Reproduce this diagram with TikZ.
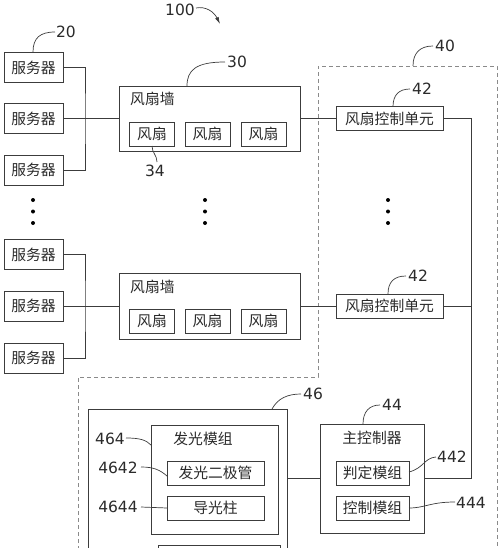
\documentclass[tikz,border=0pt]{standalone}
\usepackage{fontspec}
\setmainfont{DejaVu Sans}
\newfontfamily\cjk{Noto Sans CJK SC}
\usetikzlibrary{arrows.meta}
\definecolor{ln}{HTML}{3C3C3C}
\definecolor{tx}{HTML}{2A2A2A}
\definecolor{dsh}{HTML}{8A8A8A}
\tikzset{
  box/.style={draw=ln, line width=0.9pt, rectangle, inner sep=0pt, font=\cjk\fontsize{14.8}{16}\selectfont, text=tx},
  conn/.style={draw=ln, line width=0.9pt},
  lead/.style={draw=ln, line width=0.7pt},
  num/.style={font=\fontsize{15.5}{16}\selectfont, text=tx, inner sep=0pt},
  lbl/.style={font=\cjk\fontsize{14.8}{16}\selectfont, text=tx, inner sep=0pt},
  dotm/.style={fill=black, draw=none, circle, minimum size=4pt, inner sep=0pt},
}
\begin{document}
\begin{tikzpicture}[x=1pt, y=-1pt]
\useasboundingbox (0,0) rectangle (500,548);
\begin{scope}
\clip (0,0) rectangle (500,548);
% dashed region 40
\draw[dsh, line width=0.8pt, dash pattern=on 4pt off 3pt] (78,620) -- (78,377) -- (318,377) -- (318,66) -- (497,66) -- (497,620);

% servers
\node[box, minimum width=59pt, minimum height=30pt] (s1) at (33.5,67.5) {服务器};
\node[box, minimum width=59pt, minimum height=30pt] (s2) at (33.5,118.5) {服务器};
\node[box, minimum width=59pt, minimum height=30pt] (s3) at (33.5,170) {服务器};
\node[box, minimum width=59pt, minimum height=30pt] (s4) at (33.5,254.5) {服务器};
\node[box, minimum width=59pt, minimum height=30pt] (s5) at (33.5,306) {服务器};
\node[box, minimum width=59pt, minimum height=30pt] (s6) at (33.5,358) {服务器};

% fan walls
\node[box, minimum width=181pt, minimum height=65pt] (fw1) at (209.5,118.5) {};
\node[box, minimum width=181pt, minimum height=66pt] (fw2) at (209.5,306) {};
\node[lbl, anchor=west] (fw1t) at (130,99) {风扇墙};
\node[lbl, anchor=west] (fw2t) at (130,287) {风扇墙};
\foreach \i/\x in {1/152,2/207.5,3/263.5}{
  \node[box, minimum width=45pt, minimum height=24pt] (fa\i) at (\x,134) {风扇};
  \node[box, minimum width=45pt, minimum height=24pt] (fb\i) at (\x,321) {风扇};
}

% fan control units
\node[box, minimum width=107pt, minimum height=24pt] (fc1) at (389.5,118.5) {风扇控制单元};
\node[box, minimum width=107pt, minimum height=24pt] (fc2) at (389.5,306) {风扇控制单元};

% main controller
\node[box, minimum width=104pt, minimum height=109pt] (ctrl) at (372,478.5) {};
\node[lbl] (ctrlt) at (372,438) {主控制器};
\node[box, minimum width=73pt, minimum height=24pt] (jd) at (372.5,473) {判定模组};
\node[box, minimum width=73pt, minimum height=24pt] (kz) at (372.5,508) {控制模组};

% box 46
\node[box, minimum width=199pt, minimum height=211pt] (b46) at (187.5,514.5) {};
\node[box, minimum width=127pt, minimum height=109pt] (b464) at (214.5,479.5) {};
\node[lbl] (b464t) at (203,439) {发光模组};
\node[box, minimum width=97pt, minimum height=24pt] (led) at (215.5,473) {发光二极管};
\node[box, minimum width=97pt, minimum height=24pt] (lgp) at (215.5,508) {导光柱};
\node[box, minimum width=122pt, minimum height=60pt] (bot) at (219,575) {};

% connectors
\coordinate (jA) at (85,118.5);
\coordinate (jB) at (85,306);
\draw[conn] (s1.east) -| (jA) |- (s3.east);
\draw[conn] (s2.east) -- (fw1.west);
\draw[conn] (s4.east) -| (jB) |- (s6.east);
\draw[conn] (s5.east) -- (fw2.west);
\draw[conn] (fw1.east) -- (fc1.west);
\draw[conn] (fw2.east) -- (fc2.west);
\coordinate (bus) at (471,478.5);
\draw[conn] (fc1.east) -| (bus) -- (ctrl.east);
\draw[conn] (fc2.east) -- (fc2.east -| bus);
\draw[conn] (b46.east |- ctrl.west) -- (ctrl.west);

% dots
\foreach \x/\y in {33/200,33/211.5,33/223,205/200,205/211.5,205/223,388/200,388/211.5,388/223}{
  \node[dotm] at (\x,\y) {};
}

% labels
\node[num] (n100) at (180,10) {100};
\draw[lead, -{Latex[length=7pt,width=4pt]}] (196,8) .. controls (206,6) and (214,12) .. (220,24);
\node[num] (n20) at (66,32) {20};
\draw[lead] (33,52) .. controls (33,38) and (40,32) .. (55,32);
\node[num] (n30) at (237,62) {30};
\draw[lead] (187,86) .. controls (187,70) and (196,62) .. (225,62);
\node[num] (n34) at (155,171) {34};
\draw[lead] (152,146) .. controls (152,153) and (157,155) .. (157,162);
\node[num] (n40) at (445,46) {40};
\draw[lead] (413,66) .. controls (413,53) and (420,46) .. (433,46);
\node[num] (n42a) at (422,89) {42};
\draw[lead] (393,106.5) .. controls (393,95) and (399,89) .. (410,89);
\node[num] (n42b) at (418,276) {42};
\draw[lead] (388,294) .. controls (388,282) and (394,276) .. (406,276);
\node[num] (n46) at (313,394) {46};
\draw[lead] (272,409) .. controls (278,398) and (288,394) .. (301,394);
\node[num] (n44) at (392,405) {44};
\draw[lead] (363,424) .. controls (363,412) and (369,405) .. (380,405);
\node[num] (n442) at (452,457) {442};
\draw[lead] (409,472) .. controls (424,468) and (424,458) .. (436,457);
\node[num] (n444) at (471,503) {444};
\draw[lead] (409,508) .. controls (425,508) and (430,502) .. (455,502);
\node[num] (n464) at (110,439) {464};
\draw[lead] (126,438) .. controls (140,438) and (146,440) .. (151,445);
\node[num] (n4642) at (118,468) {4642};
\draw[lead] (141,467) .. controls (154,467) and (160,470) .. (167,476);
\node[num] (n4644) at (118,507) {4644};
\draw[lead] (141,507) -- (167,508);
\end{scope}
\end{tikzpicture}
\end{document}
